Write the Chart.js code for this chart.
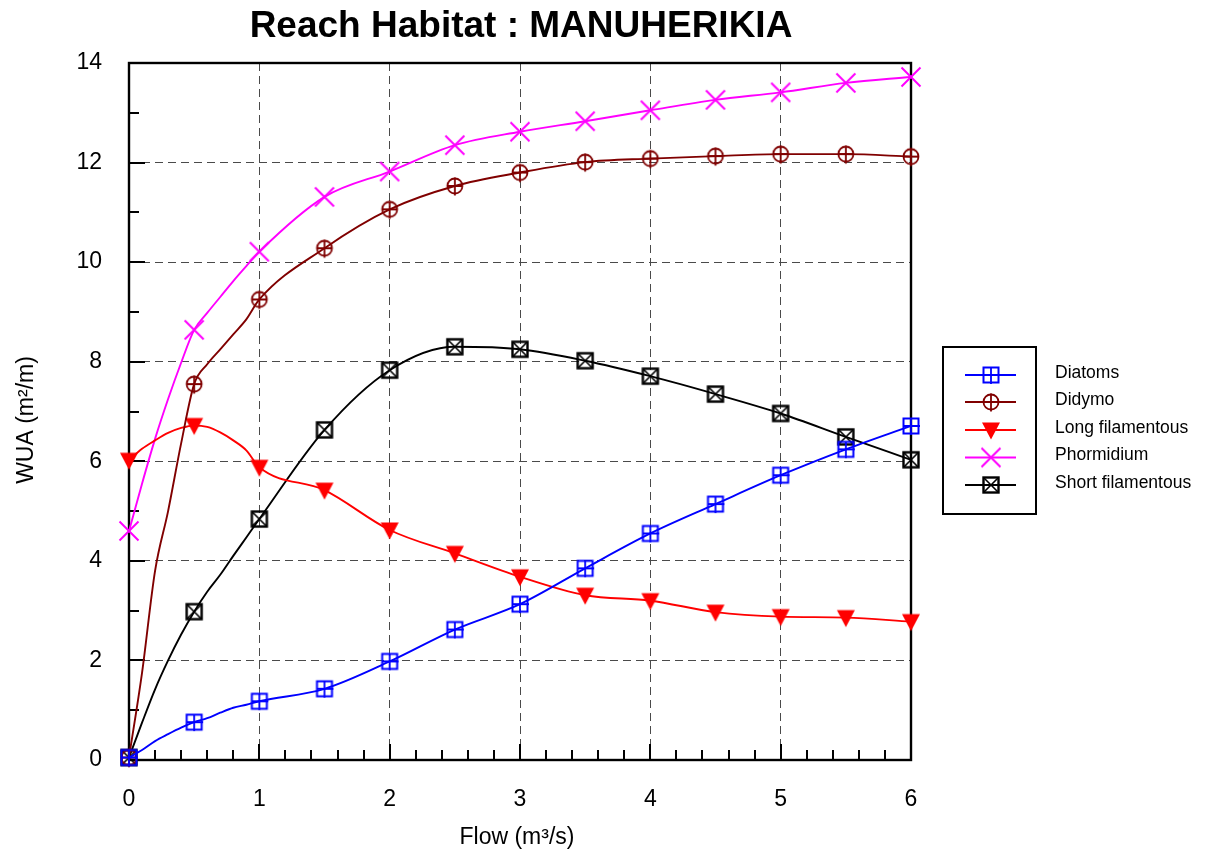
<!DOCTYPE html>
<html>
<head>
<meta charset="utf-8">
<title>Reach Habitat : MANUHERIKIA</title>
<script src="https://cdn.jsdelivr.net/npm/chart.js@4/dist/chart.umd.min.js"></script>
<style>
  html, body { margin: 0; padding: 0; background: #ffffff; }
  #wrap { width: 1206px; height: 852px; }
</style>
</head>
<body>
<div id="wrap"><canvas id="chart" width="1206" height="852"></canvas></div>
<script>
// Flow (m3/s) at which WUA was computed
const flows = [0, 0.1, 0.2, 0.3, 0.4, 0.5, 0.6, 0.7, 0.8, 0.9, 1, 1.5, 2, 2.5, 3, 3.5, 4, 4.5, 5, 5.5, 6];

// Weighted usable area (m2/m) for each periphyton class
const diatoms  = [0.05, 0.20, 0.38, 0.52, 0.65, 0.76, 0.84, 0.95, 1.05, 1.11, 1.18, 1.43, 1.98, 2.62, 3.13, 3.85, 4.55, 5.14, 5.72, 6.24, 6.71];
const didymo   = [0.05, 1.75, 3.80, 5.00, 6.36, 7.55, 7.95, 8.25, 8.55, 8.85, 9.25, 10.28, 11.06, 11.53, 11.80, 12.01, 12.08, 12.13, 12.17, 12.17, 12.12];
const longFil  = [6.02, 6.25, 6.42, 6.57, 6.67, 6.72, 6.69, 6.58, 6.42, 6.22, 5.88, 5.42, 4.62, 4.15, 3.68, 3.31, 3.20, 2.97, 2.88, 2.86, 2.78];
const phormid  = [4.60, 5.55, 6.45, 7.25, 7.98, 8.64, 8.98, 9.30, 9.62, 9.92, 10.21, 11.31, 11.82, 12.35, 12.62, 12.83, 13.05, 13.26, 13.41, 13.60, 13.72];
const shortFil = [0.05, 0.75, 1.42, 2.00, 2.52, 2.98, 3.38, 3.72, 4.10, 4.47, 4.84, 6.63, 7.83, 8.30, 8.25, 8.02, 7.71, 7.35, 6.96, 6.49, 6.03];

const seriesNames = ['Diatoms', 'Didymo', 'Long filamentous', 'Phormidium', 'Short filamentous'];
const xTicks = [0, 1, 2, 3, 4, 5, 6];
const yTicks = [0, 2, 4, 6, 8, 10, 12, 14];

const titleText = 'Reach Habitat : MANUHERIKIA';
const xTitle = 'Flow (m\u00B3/s)';
const yTitle = 'WUA (m\u00B2/m)';

const FONT = "'Liberation Sans', Arial, Helvetica, sans-serif";

// Marker glyphs drawn once on small canvases and used as point styles
function makeMarker(kind, color) {
  const c = document.createElement('canvas');
  c.width = 26; c.height = 26;
  const g = c.getContext('2d');
  const m = 13;
  g.strokeStyle = color;
  g.fillStyle = color;
  g.lineCap = 'butt';
  if (kind === 'boxplus') {
    g.lineWidth = 2;
    g.strokeRect(m - 7.5, m - 7.5, 15, 15);
    g.lineWidth = 1.8;
    g.beginPath();
    g.moveTo(m, m - 7.5); g.lineTo(m, m + 9);
    g.moveTo(m - 7.5, m); g.lineTo(m + 9, m);
    g.stroke();
  } else if (kind === 'circleplus') {
    g.lineWidth = 1.8;
    g.beginPath();
    g.arc(m, m, 7.5, 0, Math.PI * 2);
    g.stroke();
    g.beginPath();
    g.moveTo(m, m - 8.5); g.lineTo(m, m + 9.5);
    g.moveTo(m - 7.5, m); g.lineTo(m + 7.5, m);
    g.stroke();
  } else if (kind === 'tridown') {
    g.beginPath();
    g.moveTo(m - 9, m - 7.5);
    g.lineTo(m + 9, m - 7.5);
    g.lineTo(m, m + 9.5);
    g.closePath();
    g.fill();
  } else if (kind === 'x') {
    g.lineWidth = 2;
    g.beginPath();
    g.moveTo(m - 9.5, m - 9.5); g.lineTo(m + 9.5, m + 9.5);
    g.moveTo(m + 9.5, m - 9.5); g.lineTo(m - 9.5, m + 9.5);
    g.stroke();
  } else if (kind === 'boxx') {
    g.lineWidth = 2.4;
    g.strokeRect(m - 7.5, m - 7.5, 15, 15);
    g.lineWidth = 1.6;
    g.beginPath();
    g.moveTo(m - 7.5, m - 7.5); g.lineTo(m + 7.5, m + 7.5);
    g.moveTo(m + 7.5, m - 7.5); g.lineTo(m - 7.5, m + 7.5);
    g.stroke();
  }
  return c;
}

const seriesValues = [diatoms, didymo, longFil, phormid, shortFil];
const seriesColors = ['#0000FF', '#800000', '#FF0000', '#FF00FF', '#000000'];
const seriesMarkers = ['boxplus', 'circleplus', 'tridown', 'x', 'boxx'];
const markerImages = seriesMarkers.map((k, i) => makeMarker(k, seriesColors[i]));

// markers are shown every 0.5 m3/s
const isMarker = x => Math.abs(x * 2 - Math.round(x * 2)) < 1e-6;

const datasets = seriesNames.map((name, i) => ({
  label: name,
  data: flows.map((x, j) => ({ x: x, y: seriesValues[i][j] })),
  borderColor: seriesColors[i],
  backgroundColor: seriesColors[i],
  borderWidth: 1.9,
  cubicInterpolationMode: 'monotone',
  pointStyle: markerImages[i],
  pointRadius: ctx => (ctx.raw && isMarker(ctx.raw.x)) ? 8 : 0,
  pointHoverRadius: 0,
  clip: false
}));

const PLOT = { left: 129, right: 911, top: 63, bottom: 760 };

const decorations = {
  id: 'decorations',
  beforeDatasetsDraw(chart) {
    const ctx = chart.ctx;
    const xs = chart.scales.x, ys = chart.scales.y;
    const a = chart.chartArea;
    ctx.save();
    ctx.strokeStyle = '#000';
    ctx.lineWidth = 2;
    // inward tick marks on the bottom axis
    ctx.beginPath();
    for (let k = 1; k < 30; k++) {
      const v = k / 5;
      const px = Math.round(xs.getPixelForValue(v));
      const len = (k % 5 === 0) ? 16 : 10;
      ctx.moveTo(px, a.bottom);
      ctx.lineTo(px, a.bottom - len);
    }
    // inward tick marks on the left axis
    for (let v = 1; v < 14; v++) {
      const py = Math.round(ys.getPixelForValue(v));
      const len = (v % 2 === 0) ? 16 : 10;
      ctx.moveTo(a.left, py);
      ctx.lineTo(a.left + len, py);
    }
    ctx.stroke();
    // frame
    ctx.lineWidth = 2.4;
    ctx.strokeRect(a.left, a.top, a.right - a.left, a.bottom - a.top);
    ctx.restore();
  },
  afterDraw(chart) {
    const ctx = chart.ctx;
    const a = chart.chartArea;
    ctx.save();
    ctx.fillStyle = '#000';
    // title
    ctx.font = 'bold 37px ' + FONT;
    ctx.textAlign = 'center';
    ctx.textBaseline = 'middle';
    ctx.fillText(titleText, (a.left + a.right) / 2 + 1, 27);
    // axis titles
    ctx.font = '23px ' + FONT;
    ctx.fillText(xTitle, 517, 838);
    ctx.save();
    ctx.translate(27, 420);
    ctx.rotate(-Math.PI / 2);
    ctx.fillText(yTitle, 0, 0);
    ctx.restore();

    // legend
    const box = { x: 943, y: 347, w: 93, h: 167 };
    ctx.lineWidth = 2;
    ctx.strokeStyle = '#000';
    ctx.strokeRect(box.x, box.y, box.w, box.h);
    const rowY = [375, 402, 430, 457.5, 485];
    ctx.font = '17.5px ' + FONT;
    ctx.textAlign = 'left';
    chart.data.datasets.forEach((ds, i) => {
      const y = rowY[i];
      ctx.strokeStyle = ds.borderColor;
      ctx.lineWidth = 1.9;
      ctx.beginPath();
      ctx.moveTo(965, y);
      ctx.lineTo(1016, y);
      ctx.stroke();
      const img = ds.pointStyle;
      ctx.drawImage(img, 991 - img.width / 2, y - img.height / 2);
      ctx.fillStyle = '#000';
      ctx.fillText(ds.label, 1055, y - 2);
    });
    ctx.restore();
  }
};

const gridColor = (ctx, max) => {
  const v = ctx.tick ? ctx.tick.value : null;
  return (v === 0 || v === max) ? 'rgba(0,0,0,0)' : '#4a4a4a';
};

new Chart(document.getElementById('chart'), {
  type: 'line',
  data: { datasets: datasets },
  options: {
    responsive: false,
    animation: false,
    events: [],
    layout: { padding: { top: PLOT.top, right: 1206 - PLOT.right, left: 0, bottom: 0 } },
    plugins: {
      legend: { display: false },
      title: { display: false },
      tooltip: { enabled: false }
    },
    scales: {
      x: {
        type: 'linear',
        min: 0, max: 6,
        afterBuildTicks: s => { s.ticks = xTicks.map(v => ({ value: v })); },
        afterFit: s => { s.height = 852 - PLOT.bottom; },
        ticks: { color: '#000', font: { family: FONT, size: 23 }, padding: 26, maxRotation: 0 },
        grid: { color: ctx => gridColor(ctx, 6), lineWidth: 1, drawTicks: false },
        border: { display: false, dash: [8, 5] }
      },
      y: {
        type: 'linear',
        min: 0, max: 14,
        afterBuildTicks: s => { s.ticks = yTicks.map(v => ({ value: v })); },
        afterFit: s => { s.width = PLOT.left; },
        ticks: { color: '#000', font: { family: FONT, size: 23 }, padding: 27 },
        grid: { color: ctx => gridColor(ctx, 14), lineWidth: 1, drawTicks: false },
        border: { display: false, dash: [8, 5] }
      }
    }
  },
  plugins: [decorations]
});
</script>
</body>
</html>
